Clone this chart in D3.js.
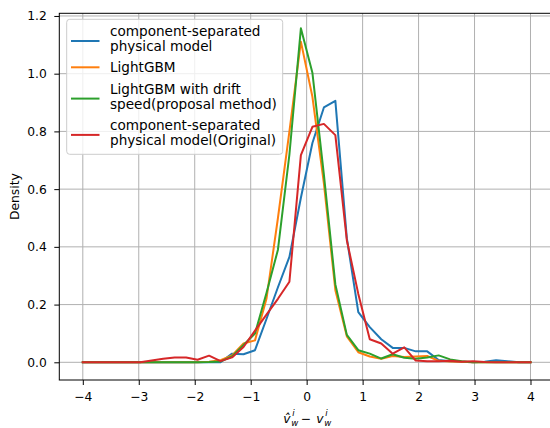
<!DOCTYPE html>
<html lang="en">
<head>
    <meta charset="UTF-8">
    <title>Density of error</title>
    <script src="https://d3js.org/d3.v7.min.js"></script>
    <style>
        body { margin: 0; background: #fff; }
        svg { display: block; font-family: "DejaVu Sans", sans-serif; }
    </style>
</head>
<body>
    <svg width="550" height="428"></svg>
    <script>
        // evaluation points (40 points from -4 to 4)
        const xs = [-4.000, -3.795, -3.590, -3.385, -3.179, -2.974, -2.769, -2.564, -2.359, -2.154,
                    -1.949, -1.744, -1.538, -1.333, -1.128, -0.923, -0.718, -0.513, -0.308, -0.103,
                     0.103,  0.308,  0.513,  0.718,  0.923,  1.128,  1.333,  1.538,  1.744,  1.949,
                     2.154,  2.359,  2.564,  2.769,  2.974,  3.179,  3.385,  3.590,  3.795,  4.000];

        const physical = [0, 0, 0, 0, 0, 0, 0, 0, 0, 0,
                          0, 0, 0, 0.030, 0.028, 0.042, 0.150, 0.260, 0.365, 0.570,
                          0.760, 0.883, 0.906, 0.430, 0.174, 0.122, 0.080, 0.050, 0.050, 0.038,
                          0.038, 0.008, 0.004, 0.002, 0, 0.002, 0.007, 0.004, 0, 0];
        const lgbm = [0, 0, 0, 0, 0, 0, 0, 0, 0, 0,
                      0, 0.002, 0.007, 0.024, 0.065, 0.076, 0.220, 0.500, 0.800, 1.111,
                      0.920, 0.620, 0.250, 0.090, 0.035, 0.020, 0.012, 0.022, 0.018, 0.020,
                      0.022, 0.005, 0.003, 0.002, 0, 0, 0, 0, 0, 0];
        const lgbmDrift = [0, 0, 0, 0, 0, 0, 0, 0, 0, 0,
                           0, 0.001, 0.003, 0.020, 0.060, 0.100, 0.240, 0.390, 0.720, 1.157,
                           1.003, 0.650, 0.270, 0.095, 0.042, 0.030, 0.013, 0.028, 0.016, 0.012,
                           0.017, 0.024, 0.010, 0.004, 0, 0, 0, 0, 0, 0];
        const physicalOrig = [0, 0, 0, 0, 0, 0, 0.006, 0.012, 0.017, 0.017,
                              0.009, 0.023, 0.004, 0.017, 0.053, 0.110, 0.165, 0.220, 0.279, 0.718,
                              0.816, 0.826, 0.787, 0.423, 0.237, 0.080, 0.065, 0.030, 0.052, 0.006,
                              0.004, 0.004, 0.005, 0.002, 0.004, 0.001, 0, 0, 0, 0];

        const seriesNames = [
            ["component-separated", "physical model"],
            ["LightGBM"],
            ["LightGBM with drift", "speed(proposal method)"],
            ["component-separated", "physical model(Original)"]
        ];
        const seriesValues = [physical, lgbm, lgbmDrift, physicalOrig];
        const colors = ["#1f77b4", "#ff7f0e", "#2ca02c", "#d62728"];

        const xTicks = [-4, -3, -2, -1, 0, 1, 2, 3, 4];
        const yTicks = [0, 0.2, 0.4, 0.6, 0.8, 1.0, 1.2];

        // plot box
        const plotL = 59.3, plotR = 554, plotT = 13.3, plotB = 380;

        const svg = d3.select("svg");
        const x = d3.scaleLinear().domain([-4.42, 4.42]).range([plotL, plotR]);
        const y = d3.scaleLinear().domain([-0.0613, 1.2092]).range([plotB, plotT]);

        // grid
        const grid = svg.append("g").attr("stroke", "#b0b0b0").attr("stroke-width", 1);
        grid.selectAll(".gx").data(xTicks).join("line")
            .attr("x1", d => x(d)).attr("x2", d => x(d))
            .attr("y1", plotT).attr("y2", plotB);
        grid.selectAll(".gy").data(yTicks).join("line")
            .attr("x1", plotL).attr("x2", plotR)
            .attr("y1", d => y(d)).attr("y2", d => y(d));

        // lines
        const line = d3.line().x((d, i) => x(xs[i])).y(d => y(d));
        svg.append("g").selectAll("path").data(seriesValues).join("path")
            .attr("d", line)
            .attr("fill", "none")
            .attr("stroke", (d, i) => colors[i])
            .attr("stroke-width", 2)
            .attr("stroke-linejoin", "round")
            .attr("stroke-linecap", "square");

        // axes
        const xAxis = svg.append("g")
            .attr("transform", `translate(0,${plotB})`)
            .call(d3.axisBottom(x).tickValues(xTicks).tickSize(5).tickPadding(7).tickSizeOuter(0));
        const yAxis = svg.append("g")
            .attr("transform", `translate(${plotL},0)`)
            .call(d3.axisLeft(y).tickValues(yTicks).tickFormat(d3.format(".1f")).tickSize(5).tickPadding(7.5).tickSizeOuter(0));
        [xAxis, yAxis].forEach(a => {
            a.select(".domain").remove();
            a.selectAll("text").attr("font-size", 12.3).attr("fill", "#000")
                .attr("font-family", "DejaVu Sans");
            a.selectAll("line").attr("stroke", "#000").attr("stroke-width", 1);
        });

        // frame
        svg.append("rect")
            .attr("x", plotL).attr("y", plotT)
            .attr("width", plotR - plotL).attr("height", plotB - plotT)
            .attr("fill", "none").attr("stroke", "#000").attr("stroke-width", 1);

        // labels
        svg.append("text")
            .attr("transform", `translate(18.5,${(plotT + plotB) / 2}) rotate(-90)`)
            .attr("text-anchor", "middle")
            .attr("font-size", 12.3)
            .text("Density");

        const xl = svg.append("text").attr("font-size", 12.3).attr("y", 423);
        const cx = x(0);
        xl.append("tspan").attr("x", cx - 23.5).attr("font-style", "italic").text("v\u0302");
        xl.append("tspan").attr("x", cx - 15.5).attr("dy", 3).attr("font-size", 8.6).attr("font-style", "italic").text("w");
        xl.append("tspan").attr("x", cx - 14.5).attr("dy", -10).attr("font-size", 8.6).attr("font-style", "italic").text("i");
        xl.append("tspan").attr("x", cx - 6).attr("dy", 7).text("\u2212");
        xl.append("tspan").attr("x", cx + 9.5).attr("font-style", "italic").text("v");
        xl.append("tspan").attr("x", cx + 17.5).attr("dy", 3).attr("font-size", 8.6).attr("font-style", "italic").text("w");
        xl.append("tspan").attr("x", cx + 18.5).attr("dy", -10).attr("font-size", 8.6).attr("font-style", "italic").text("i");

        // legend
        const lg = svg.append("g");
        lg.append("rect")
            .attr("x", 66.7).attr("y", 19.3).attr("width", 216).attr("height", 135)
            .attr("rx", 3)
            .attr("fill", "#fff").attr("fill-opacity", 0.8)
            .attr("stroke", "#cccccc").attr("stroke-width", 1);
        let ty = 36;
        seriesNames.forEach((lines, i) => {
            const h = lines.length;
            const my = h > 1 ? ty + 5 : ty - 5;
            lg.append("line")
                .attr("x1", 71).attr("x2", 99.5)
                .attr("y1", my).attr("y2", my)
                .attr("stroke", colors[i]).attr("stroke-width", 2);
            const t = lg.append("text").attr("font-size", 13.6).attr("x", 110).attr("y", ty);
            lines.forEach((s, j) => {
                t.append("tspan").attr("x", 110).attr("dy", j === 0 ? 0 : 15).text(s);
            });
            ty += h * 15 + 6.3;
        });
    </script>
</body>
</html>
